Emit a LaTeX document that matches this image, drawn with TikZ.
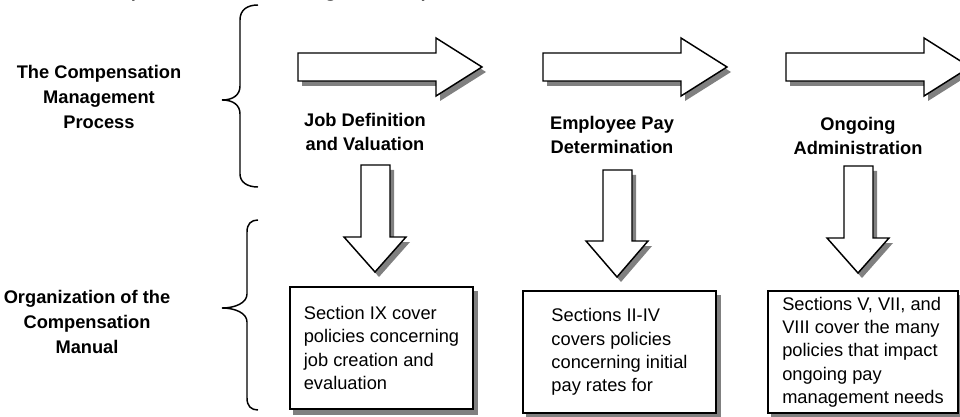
\documentclass[tikz,border=0pt]{standalone}
\usepackage{fontspec}
\setmainfont{Liberation Sans}
\usetikzlibrary{backgrounds}

\tikzset{every picture/.style={line width=0.75pt}}
\tikzset{
	blockarrow/.style={draw={rgb, 255:red, 0; green, 0; blue, 0 }, fill={rgb, 255:red, 255; green, 255; blue, 255 }, line width=1.1pt, line join=miter},
	arrowshade/.style={fill={rgb, 255:red, 128; green, 128; blue, 128 }},
	brace/.style={draw={rgb, 255:red, 0; green, 0; blue, 0 }, line width=1.1pt},
	steplabel/.style={font=\fontsize{13.7pt}{17.5pt}\selectfont\bfseries, align=center},
	sidelabel/.style={font=\fontsize{13.7pt}{18.4pt}\selectfont\bfseries, align=center},
	sectionbox/.style={draw, fill=white, line width=1.1pt, align=left, minimum height=91.5pt, font=\fontsize{13.7pt}{17.5pt}\selectfont}
}

\begin{document}
\begin{tikzpicture}[x=0.75pt,y=0.75pt,yscale=-1,xscale=1]
	\useasboundingbox (0,0) rectangle (960,417);
	\clip (0,0) rectangle (960,417);

	% Text Node (title, cut at the top edge)
	\node [anchor=base west, font=\fontsize{20.25pt}{24pt}\selectfont\itshape] (title) at (23,-4) {The compensation management process};

	% Text Node
	\node [sidelabel] (process) at (99,97) {The Compensation\\Management\\Process};
	% Text Node
	\node [sidelabel] (manual) at (87,322) {Organization of the\\Compensation\\Manual};

	%Shape: Brace (process)
	\draw [brace] (258,5) .. controls (247,5) and (240,10) .. (240,20) -- (240,86) .. controls (240,95) and (233,100) .. (222,100) .. controls (233,100) and (240,105) .. (240,114) -- (240,174) .. controls (240,182) and (247,187) .. (258,187) ;
	%Shape: Brace (manual)
	\draw [brace] (258,220) .. controls (251,220) and (247,224) .. (247,232) -- (247,294) .. controls (247,303) and (235,308) .. (222,308) .. controls (235,308) and (247,313) .. (247,322) -- (247,398) .. controls (247,406) and (251,410) .. (258,410) ;

	%Shape: Right Arrow [job definition]
	\fill [arrowshade, shift={(4,5)}] (298,53) -- (436,53) -- (436,38) -- (482,67) -- (436,96) -- (436,81) -- (298,81) -- cycle ;
	\draw [blockarrow] (298,53) -- (436,53) -- (436,38) -- (482,67) -- (436,96) -- (436,81) -- (298,81) -- cycle ;
	%Shape: Right Arrow [pay determination]
	\fill [arrowshade, shift={(4,5)}] (543,53) -- (681,53) -- (681,38) -- (727,67) -- (681,96) -- (681,81) -- (543,81) -- cycle ;
	\draw [blockarrow] (543,53) -- (681,53) -- (681,38) -- (727,67) -- (681,96) -- (681,81) -- (543,81) -- cycle ;
	%Shape: Right Arrow [administration]
	\fill [arrowshade, shift={(4,5)}] (786,53) -- (924,53) -- (924,38) -- (970,67) -- (924,96) -- (924,81) -- (786,81) -- cycle ;
	\draw [blockarrow] (786,53) -- (924,53) -- (924,38) -- (970,67) -- (924,96) -- (924,81) -- (786,81) -- cycle ;

	% Text Node
	\node [steplabel] (jobdef) at (365,132) {Job Definition\\and Valuation};
	% Text Node
	\node [steplabel] (paydet) at (612,135) {Employee Pay\\Determination};
	% Text Node
	\node [steplabel] (admin) at (858,136) {Ongoing\\Administration};

	%Shape: Down Arrow [job definition]
	\fill [arrowshade, shift={(4,5)}] (361,165) -- (390,165) -- (390,237) -- (406,237) -- (375,272) -- (344,237) -- (361,237) -- cycle ;
	\draw [blockarrow] (361,165) -- (390,165) -- (390,237) -- (406,237) -- (375,272) -- (344,237) -- (361,237) -- cycle ;
	%Shape: Down Arrow [pay determination]
	\fill [arrowshade, shift={(4,5)}] (603,170) -- (632,170) -- (632,241) -- (648,241) -- (617,277) -- (586,241) -- (603,241) -- cycle ;
	\draw [blockarrow] (603,170) -- (632,170) -- (632,241) -- (648,241) -- (617,277) -- (586,241) -- (603,241) -- cycle ;
	%Shape: Down Arrow [administration]
	\fill [arrowshade, shift={(4,5)}] (844,166) -- (873,166) -- (873,238) -- (889,238) -- (858,273) -- (827,238) -- (844,238) -- cycle ;
	\draw [blockarrow] (844,166) -- (873,166) -- (873,238) -- (889,238) -- (858,273) -- (827,238) -- (844,238) -- cycle ;

	% Text Node
	\node [sectionbox, minimum width=137.25pt] (secix) at (381.5,348) {Section IX cover\\policies concerning\\job creation and\\evaluation};
	% Text Node
	\node [sectionbox, minimum width=144.75pt] (secii) at (619.5,352) {Sections II-IV\\covers policies\\concerning initial\\pay rates for};
	% Text Node
	\node [sectionbox, minimum width=142.5pt] (secv) at (863,352) {Sections V, VII, and\\VIII cover the many\\policies that impact\\ongoing pay\\management needs};

	%Shadows of the boxes
	\begin{scope}[on background layer]
		\fill [arrowshade] ([shift={(4,5)}]secix.north west) rectangle ([shift={(4,5)}]secix.south east) ;
		\fill [arrowshade] ([shift={(4,5)}]secii.north west) rectangle ([shift={(4,5)}]secii.south east) ;
		\fill [arrowshade] ([shift={(4,5)}]secv.north west) rectangle ([shift={(4,5)}]secv.south east) ;
	\end{scope}

\end{tikzpicture}
\end{document}
